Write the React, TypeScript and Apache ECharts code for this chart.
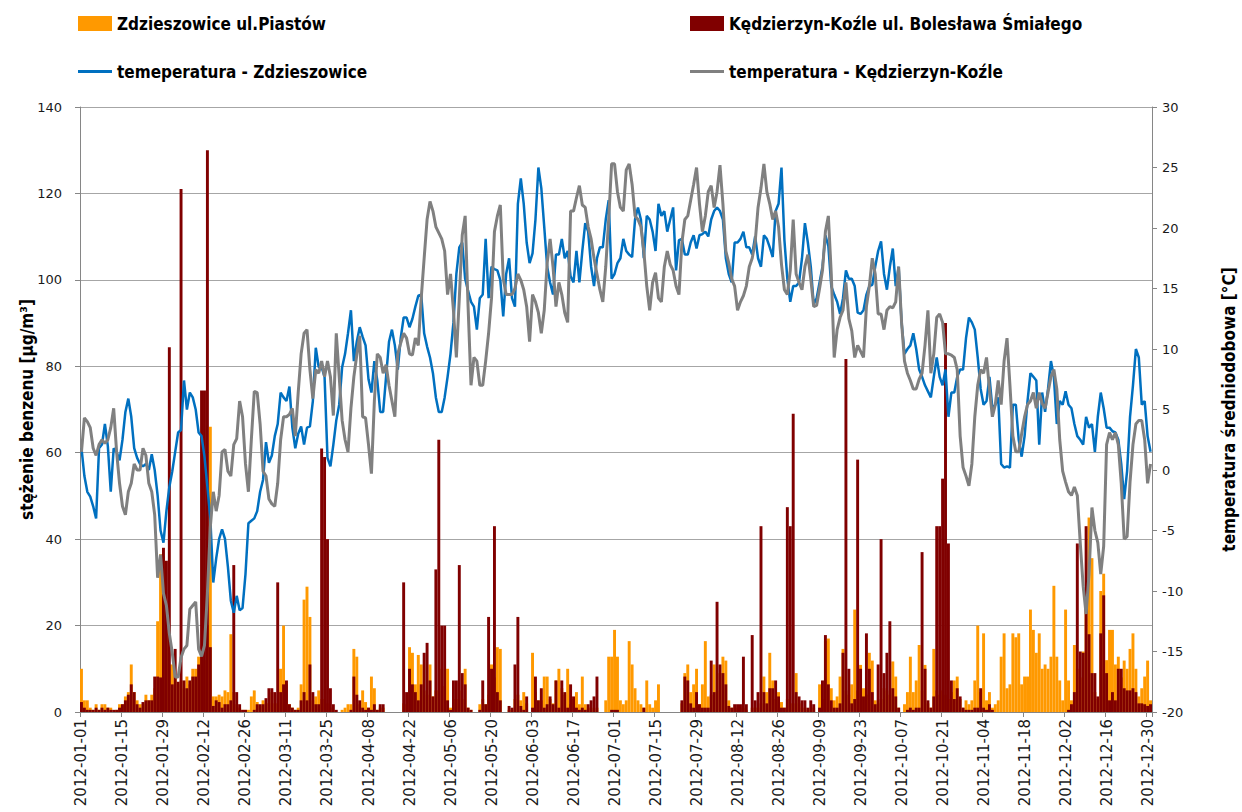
import React, { useEffect, useRef } from "react";
import * as echarts from "echarts";

// Daily categories 2012-01-01 .. 2012-12-31 (leap year, 366 days)
const START = Date.UTC(2012, 0, 1);
const days: string[] = [];
for (let i = 0; i < 366; i++) {
  days.push(new Date(START + i * 86400000).toISOString().slice(0, 10));
}

const seriesNames = [
  "Zdzieszowice ul.Piastów",
  "Kędzierzyn-Koźle ul. Bolesława Śmiałego",
  "temeperatura - Zdzieszowice",
  "temperatura - Kędzierzyn-Koźle",
];

// benzene, Zdzieszowice [µg/m3]
const benzZdz = [
  10,2.7,2.7,1,0.5,1.8,0.5,1.8,1.8,1,1,0,0.5,1.8,
  1.8,3.6,4.6,11,4.6,2.7,1.8,1.8,4,2.7,4,5.5,21,36.5,
  36,19,11,11,8.2,6.4,7.3,5.5,8.2,6.4,10,10,12.8,12.8,
  12,20,66,3.6,3.6,4,3.6,5,4.6,18,4.6,1.8,1,0.5,
  0.5,0.5,3.6,5,2.3,1.5,2.7,2,2,4.6,2,2,10,20,
  6.4,1.8,1,0.5,1,6.4,26,29,22,2.7,3.6,5,3,3,
  2,1,0.5,0,0,0.5,1,1.8,1.8,14.6,12.8,1.8,5,2.3,
  1,8.2,5.5,0.5,1,1,0,0,0,0,0,0,2,1.8,
  15,13.7,6.4,13.2,11,5,4,11,3.6,5,5,10,6,10,
  1,3,3,5,3,10,1,0.5,0,0,1.8,3,1.8,4,
  11,8,15,14.6,0,0,0.5,0.5,3,4,2.7,4.6,2,0,
  13.7,4.6,2.7,2.7,8.2,8.2,3,2,7.3,10,5.5,4,10,1.8,
  3,4.6,1.8,8.2,1.8,1,1,0.5,1,0,0,2.7,12.8,12.8,
  19,12.8,2.7,1.8,2.7,16.4,11,5.5,2.7,1.8,1,7.3,1.8,1,
  2.7,6.4,0,0,0,0,0,0,0,2,9,11,4.6,6.4,
  10,1.8,6.4,16.4,3.6,4,11,5,9,12.8,11.9,2.7,1,1,
  1,1,1,0.5,0,1,1,1,2,8.2,4.6,13.7,7.3,3,
  4.6,2.3,1,3,2,2,9,2,1,1,0.5,1,1,0,
  6.4,3,16.4,17,5.5,2.7,3.6,8.2,14.6,5,4,6.4,23.7,5,
  10.9,5.5,4,13.7,11.9,2.7,2,3,5.5,5,4,11.7,8.2,1,
  0,1.8,4.6,12.8,4.6,7.3,15.5,5,10.9,2,1,14.6,5,4,
  5,4,3,4.6,7.3,8.2,3,1,2.7,1.8,2.7,7.3,20,4.6,
  18.2,2.7,4.6,1,1.8,2.7,12.8,18.2,5.5,6.4,18.2,17.3,18.2,6.4,
  8.2,8.2,23.7,19,13.7,18.2,10,11,10,12.8,29.2,12.8,7.3,2.7,
  23.7,7.3,2.7,15.5,10,8,14,28,45,35.6,4.6,3,28,32,
  12,19,19,11,12.8,8,11.9,10,14.6,18.2,10,3.6,5.5,8.2,
  11.9,2.7,
];

// benzene, Kędzierzyn-Koźle [µg/m3]
const benzKK = [
  2.3,1,0.5,0.5,0.5,1,0.5,1,0.5,1,0.5,0.5,0.5,1,
  1.8,2.7,4,6.4,4.6,1.8,1,2.3,2.7,2.7,2.7,8.2,8.2,8,
  38,35,84.4,6.4,14.6,7,121,7.3,5.5,7.3,8.2,8.2,11,74.4,
  74.4,130,15,1.4,2.7,2.3,1,1.8,1.8,2.7,34,4.6,1.8,0.5,
  0.5,0,0,0.5,1.8,1.8,1.8,3.2,5.5,5.5,4.6,30,4.6,6.4,
  7.3,1.8,1,0.5,0.5,2.7,4.6,2.7,11,4.6,1.8,1.8,61,59,
  40,5.5,1.8,0.5,0,0,0,0,0.5,8.2,4,2.7,1,0.5,
  1,0.5,1.8,0.5,1.8,1.8,0,0,0,0,0,0,30,4.6,
  10,6.4,4.6,2.7,6.4,13.7,16,7.3,3.6,33,63,20,20,2.7,
  0.5,7.3,7.3,34,9,6.4,1,0.5,0,0,0.5,7.3,1.8,22,
  10,43,4.6,2.7,0,0,1.4,1,11,22,1.4,0.5,3.6,0,
  1,8.2,2.7,5.5,1,1.8,3.6,1.8,7.3,1,7.3,4.6,1,6.4,
  3.6,1,0.5,1,0.5,1.8,2.7,3.6,8.2,0,0,0,0,0.5,
  0.5,0.5,0,0,0,0,0,0,0,0,1,0,0,0,
  0,0,0,0,0,0,0,0,0,2.7,8.2,7.3,2,1,
  4.6,1.8,1,1,1,11.9,4.6,25.5,11,9,6.4,1.4,1,1.8,
  1.8,1.8,12.8,1.8,0,17.8,2.7,4.6,43,4.6,2,5.5,5.5,7.3,
  3.6,1,1,47.4,43,69,4.6,3.6,2.7,2.7,1,2.7,1.8,0,
  1,7.3,17.8,6.4,2.7,1,1,2,13.7,81.7,10,2,3,58.4,
  10,3.6,18.2,10,4.6,1.8,11,40,9,13.7,21,5.5,3.6,1,
  0,0,0.5,1,0.5,1,1,37,10,2.7,1,3.6,43,43,
  54,90,39,7.3,3,5.5,3.6,1,0.5,0.5,0.5,1,1,5.5,
  1,0.5,1.8,0.5,0,0,0,0,0,0,0,0,0,0,
  0,0,0,0,0,0,0,0,0,0,0,0,0,0,
  0,0.5,1.8,4.6,39,14,13.7,43,18,9,9,3.6,18.2,27,
  9,2.7,4.6,2.7,10,10,5.5,5,5,5.5,4.6,2,2,1.8,
  1.4,1.8,
];

// mean daily temperature, Zdzieszowice [°C]
const tempZdz = [
  1.8,-0.5,-1.8,-2.2,-3,-4,1.8,2.1,3.8,2,-1.8,1.8,1.5,0.8,
  2.5,4.8,5.9,4.4,1.8,1,0.5,0.3,0.5,0,1.3,0,-2.1,-5,
  -6,-3.4,-1.4,-0.1,1.5,3.1,3.3,7.4,5,6.4,6,5,3.1,2.8,
  1.1,-1.4,-4,-9.3,-7.3,-5.7,-4.9,-5.7,-8,-10.8,-11.8,-10.4,-11.6,-11.4,
  -8.6,-4.4,-4.2,-4,-3.4,-1.8,-0.8,2.3,0.6,1.2,2.8,3.8,6.4,6,
  5.7,6.9,3.5,1.8,3,3.6,2.1,3.5,3.6,5.7,10.1,8.5,8.5,7.7,
  1,0.3,2.1,4.1,5.4,8.5,9.6,11.3,13.2,9,10.6,11.8,11,10.3,
  7.5,6.4,9,7.4,4.8,4.8,7.7,10.6,11.6,10.3,8.3,10.9,12.6,12.6,
  11.8,12.5,13.5,14.4,14.5,11.3,10.2,9.3,8,6,4.8,4.8,6,7.7,
  9.6,12.2,16.2,18.4,18.8,15.8,14.8,13.9,13.5,11.6,14.2,14.5,19.1,14.2,
  16.8,16.6,16.5,15.7,12.7,16.2,17.5,14.2,13.5,22,24.1,22,18.8,17.1,
  17.9,20.7,25,23.3,20.1,16.8,15.5,14.5,17.8,17.8,19.1,17.5,18.1,16,
  15.5,18.1,15.5,18.1,20.4,19.7,16.8,15.2,17.5,18.4,18.4,20.7,22.3,15.8,
  16.2,17.1,17.5,19.1,18.1,17.8,17.6,20.7,21.7,20.7,17.5,21,20.7,19.7,
  18.1,22,21,21.4,19.7,20.7,21.7,16.5,19,19.1,17.8,17.8,18.8,19.4,
  18.3,19.4,19.5,19.7,19.3,20.7,21.4,21.7,21.4,20.7,17.5,16.2,15.5,18.8,
  18.8,19.1,19.7,18.4,18.4,17.8,19.3,17.5,16.8,19.4,19.1,18.4,17.6,21.4,
  22,25,19,15.8,13.9,15.2,15.2,15.5,17.5,20.4,18.8,16.8,13.7,14.2,
  15.5,16.8,19.4,18.5,15.2,14.5,13.9,12.9,14.2,16.5,15.8,15.8,15.2,13,
  12.9,13.2,14.5,15.2,15.3,16.8,18.1,18.9,16.2,14.9,16.8,18.3,15.2,16.8,
  12.2,9.6,10,10.3,11.3,10,8.3,7.7,7,6.5,6,7.7,9.3,7.7,
  7,8.3,4.4,6.4,6.4,7.7,8.3,8.3,10.9,12.6,12.2,11.6,9.3,6.7,
  5.4,5.7,7.7,5.1,5.4,6,0.5,0.2,0.3,0.2,5.4,5.4,2.5,1.1,
  2.8,5.7,8,7.7,7.4,2.1,6.4,4.8,6.7,9,7.7,3.8,5.7,5.4,
  6.5,5.4,5.1,3.8,2.8,2.5,2.1,4.4,3.5,3.8,1.5,4.4,6.4,5.1,
  3.5,3.5,3.2,3.1,2.5,0.5,-2.4,-0.1,4.4,7,10,9.3,5.4,5.7,
  2.8,1.5,
];

// mean daily temperature, Kędzierzyn-Koźle [°C]
const tempKK = [
  1.5,4.3,4,3.5,1.8,1.2,2.1,2.5,2.2,2.5,3.5,5.1,1.5,-1.1,
  -3,-3.7,-1.8,-1.1,0.5,0,0,1.8,1.2,-1.1,-1.8,-3.7,-8.9,-7,
  -10.2,-11.2,-13.5,-15.1,-17.1,-17.1,-15.5,-14.8,-14.5,-11.5,-11.2,-10.9,-14.8,-15.4,
  -14.5,-10.2,-4.7,-1.8,-3.4,-2.1,1.5,1.7,-0.1,-0.5,2.1,2.6,5.7,4.4,
  0.5,-1.8,2.5,6.5,6.4,3.8,-0.1,-0.5,-2.4,-2.8,-3,-1.1,2.5,4.4,
  4.4,4.6,5.1,2.8,6.4,9.6,11.3,11.6,8.3,5.9,8.3,8,9,7.7,
  9,7.7,4.5,11.3,7.7,4.1,2.5,1.5,5.1,7.7,9.5,11.1,4.4,4.3,
  2.1,-0.3,5.7,9.6,9.3,8,8.7,7,5.7,4.4,9.6,10.5,11.3,10.9,
  9.6,9.5,10.9,10.3,14.2,17.5,20.7,22.2,21.4,20.1,19.6,19.1,18.1,14.5,
  16.2,13.2,9.3,14.2,19.4,21,13.5,7,9.3,9,7,7,9,11.3,
  14.2,19.7,21,21.9,15.8,14.5,14.5,14.5,15,16.2,15.7,14.9,13.5,10.6,
  14.5,13.9,13,11.3,13.2,17.1,19.1,16.8,13.5,15.5,14.5,13,12.2,21.4,
  21.4,22.5,23.5,21.9,21.7,20.1,19.1,17.5,16.2,14.9,13.9,16.8,20.7,25.3,
  25.3,23,21.7,21.4,24.8,25.3,23.6,21,20.7,20.1,18.1,15.2,13.2,15.5,
  16.3,14.2,13.9,16.8,18.1,17,16.5,15.2,14.5,18.8,20.7,21,22.3,23.6,
  25,22,19.7,21,23,23.5,21.7,23,25.2,22,18.1,17.1,15.8,15.2,
  13.2,13.9,14.4,15.2,16.8,17.5,18.8,21.7,23.3,25.3,23,22,20.7,21.4,
  20.1,17,14.9,14.5,16.5,20.7,16.2,15.5,14.9,16.8,17.8,15.8,13.5,13.6,
  15,16.5,19.7,21,16.2,9.3,11.6,12.6,13.2,15.5,12.5,11.5,9.3,10.3,
  9.8,9.3,13.5,15.2,17.5,16.2,12.9,12.9,11.6,13.2,13.5,13.4,13.9,16.8,
  12.2,9,8,7.4,6.7,6.7,7.5,8,10.3,13.2,8,9.6,12.6,12.9,
  12.2,9.6,9.6,9.5,9.3,8.3,2.8,0.2,-0.5,-1.3,0.5,4.4,7,8.3,
  8,9.3,6.7,4.4,5.4,7.4,5.4,9,10.9,7,2.8,1.5,1.5,3,
  4.4,5.4,5.7,6.4,5.1,6.4,5.5,5.1,6.4,7.7,8.3,6.7,2.5,-0.1,
  -1,-1.8,-2.1,-1.4,-2.1,-6,-9.6,-11.9,-8.6,-3.1,-5,-6,-8.6,-6.3,
  2.1,3.1,2.5,3.1,2.1,-1.1,-5.7,-5.5,-1,2.1,3.8,4.1,4.1,2.5,
  -1.1,0.5,
];

const COLORS = ["#FF9900", "#800000", "#0070C0", "#808080"];
const NARROW = "'DejaVu Sans Condensed', 'Liberation Sans Narrow', 'Liberation Sans', sans-serif";
const TICKFONT = "'DejaVu Sans', Verdana, sans-serif";

export default function App() {
  const ref = useRef<HTMLDivElement>(null);
  useEffect(() => {
    if (!ref.current) return;
    const chart = echarts.init(ref.current, undefined, { renderer: "svg" });
    const legendBase = {
      orient: "horizontal" as const,
      itemWidth: 34,
      itemGap: 10,
      padding: 0,
      textStyle: { fontFamily: NARROW, fontSize: 17, fontWeight: "bold" as const, color: "#000" },
      selectedMode: false,
    };
    chart.setOption({
      animation: false,
      backgroundColor: "#ffffff",
      legend: [
        { ...legendBase, left: 78, top: 15, icon: "rect", itemHeight: 15, data: [seriesNames[0]] },
        { ...legendBase, left: 690, top: 15, icon: "rect", itemHeight: 15, data: [seriesNames[1]] },
        { ...legendBase, left: 78, top: 63, icon: "rect", itemHeight: 3, data: [seriesNames[2]] },
        { ...legendBase, left: 690, top: 63, icon: "rect", itemHeight: 3, data: [seriesNames[3]] },
      ],
      grid: { left: 80, right: 90, top: 107, bottom: 100, outerBoundsMode: "none" },
      xAxis: {
        type: "category",
        data: days,
        boundaryGap: true,
        axisLine: { lineStyle: { color: "#868686", width: 1 } },
        axisTick: { show: true, interval: 13, length: 5, lineStyle: { color: "#868686" } },
        axisLabel: {
          interval: 13,
          rotate: 90,
          fontFamily: TICKFONT,
          fontSize: 15,
          color: "#1a1a1a",
          margin: 7,
        },
        splitLine: { show: false },
      },
      yAxis: [
        {
          type: "value",
          min: 0,
          max: 140,
          interval: 20,
          name: "stężenie benzenu [µg/m³]",
          nameLocation: "middle",
          nameRotate: 90,
          nameGap: 45,
          nameMoveOverlap: false,
          nameTextStyle: { fontFamily: NARROW, fontWeight: "bold", fontSize: 17, color: "#000" },
          axisLine: { show: true, lineStyle: { color: "#868686" } },
          axisTick: { show: true, length: 5, lineStyle: { color: "#868686" } },
          axisLabel: { fontFamily: TICKFONT, fontSize: 13, color: "#1a1a1a", margin: 18 },
          splitLine: { show: true, lineStyle: { color: "#a6a6a6", width: 1 } },
        },
        {
          type: "value",
          min: -20,
          max: 30,
          interval: 5,
          position: "right",
          name: "temperatura średniodobowa [°C]",
          nameLocation: "middle",
          nameRotate: 90,
          nameGap: 68,
          nameTextStyle: { fontFamily: NARROW, fontWeight: "bold", fontSize: 17, color: "#000" },
          axisLine: { show: true, lineStyle: { color: "#868686" } },
          axisTick: { show: true, length: 5, lineStyle: { color: "#868686" } },
          axisLabel: { fontFamily: TICKFONT, fontSize: 13, color: "#1a1a1a", margin: 10 },
          splitLine: { show: false },
        },
      ],
      series: [
        {
          name: seriesNames[0],
          type: "bar",
          yAxisIndex: 0,
          data: benzZdz,
          barGap: "-100%",
          barCategoryGap: "0%",
          itemStyle: { color: COLORS[0] },
        },
        {
          name: seriesNames[1],
          type: "bar",
          yAxisIndex: 0,
          data: benzKK,
          barGap: "-100%",
          barCategoryGap: "0%",
          itemStyle: { color: COLORS[1] },
        },
        {
          name: seriesNames[2],
          type: "line",
          yAxisIndex: 1,
          data: tempZdz,
          symbol: "none",
          showSymbol: false,
          lineStyle: { color: COLORS[2], width: 2.5 },
          itemStyle: { color: COLORS[2] },
        },
        {
          name: seriesNames[3],
          type: "line",
          yAxisIndex: 1,
          data: tempKK,
          symbol: "none",
          showSymbol: false,
          lineStyle: { color: COLORS[3], width: 3 },
          itemStyle: { color: COLORS[3] },
        },
      ],
    });
    return () => chart.dispose();
  }, []);
  return (
    <div
      ref={ref}
      style={{ position: "absolute", left: 0, top: 0, width: 1242, height: 812 }}
    />
  );
}
